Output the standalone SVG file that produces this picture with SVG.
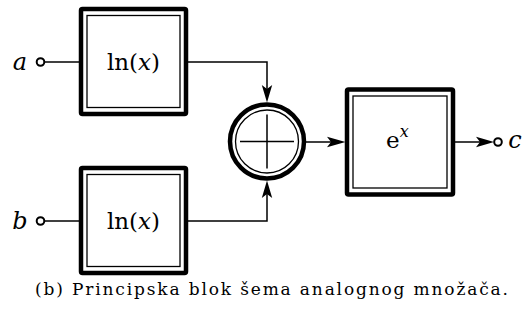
<svg xmlns="http://www.w3.org/2000/svg" width="529" height="324" viewBox="0 0 529 324">
<style>
.outer{fill:none;stroke:#000;stroke-width:4.5;stroke-linejoin:round}
.inner{fill:none;stroke:#000;stroke-width:1.3}
.wire{fill:none;stroke:#000;stroke-width:1.5}
.head{fill:#000;stroke:none}
.port{fill:#fff;stroke:#000;stroke-width:2}
.t{font-family:"DejaVu Serif",serif;fill:#000}
</style>
<g id="connectors">
<path class="wire" d="M45,62 H79"/>
<path class="wire" d="M45,221 H79"/>
<path class="wire" d="M188,62 H267 V92"/>
<path class="head" d="M267,102.5 L261.8,85 L267,89 L272.2,85 Z"/>
<path class="wire" d="M188,221 H267 V191"/>
<path class="head" d="M267,180.5 L261.8,198 L267,194 L272.2,198 Z"/>
<path class="wire" d="M306,142 H334"/>
<path class="head" d="M345.5,142 L327,136.8 L331,142 L327,147.2 Z"/>
<path class="wire" d="M455,142 H484"/>
<path class="head" d="M494,142 L476,136.8 L480,142 L476,147.2 Z"/>
</g>
<g id="in-a">
<circle class="port" cx="40.5" cy="62" r="3.8"/>
<text class="t" font-size="24" font-style="italic" x="20" y="70" text-anchor="middle">a</text>
</g>
<g id="in-b">
<circle class="port" cx="40.5" cy="221" r="3.8"/>
<text class="t" font-size="24" font-style="italic" x="20" y="229" text-anchor="middle">b</text>
</g>
<g id="ln-a">
<rect class="outer" x="81" y="9" width="105" height="105" rx="1.5"/>
<rect class="inner" x="87" y="15.5" width="93" height="92"/>
<text class="t" font-size="23" x="133.5" y="70" text-anchor="middle">ln(<tspan font-style="italic">x</tspan>)</text>
</g>
<g id="ln-b">
<rect class="outer" x="81" y="168" width="105" height="105" rx="1.5"/>
<rect class="inner" x="87" y="174.5" width="93" height="92"/>
<text class="t" font-size="23" x="133.5" y="229" text-anchor="middle">ln(<tspan font-style="italic">x</tspan>)</text>
</g>
<g id="sum">
<circle cx="267" cy="141.5" r="37" fill="none" stroke="#000" stroke-width="4.5"/>
<circle cx="267" cy="141.5" r="31.5" class="inner"/>
<path class="wire" d="M240,141.5 H294 M267,114.5 V168.5"/>
</g>
<g id="exp">
<rect class="outer" x="347" y="89.5" width="106" height="105" rx="1.5"/>
<rect class="inner" x="353" y="96" width="94" height="92"/>
<text class="t" font-size="23" x="386" y="148">e<tspan font-style="italic" font-size="16" dy="-11">x</tspan></text>
</g>
<g id="out-c">
<circle class="port" cx="498" cy="142" r="3.8"/>
<text class="t" font-size="24" font-style="italic" x="515" y="148" text-anchor="middle">c</text>
</g>
<text class="t" font-size="17" x="35" y="295" textLength="473" lengthAdjust="spacing">(b) Principska blok šema analognog množača.</text>
</svg>
